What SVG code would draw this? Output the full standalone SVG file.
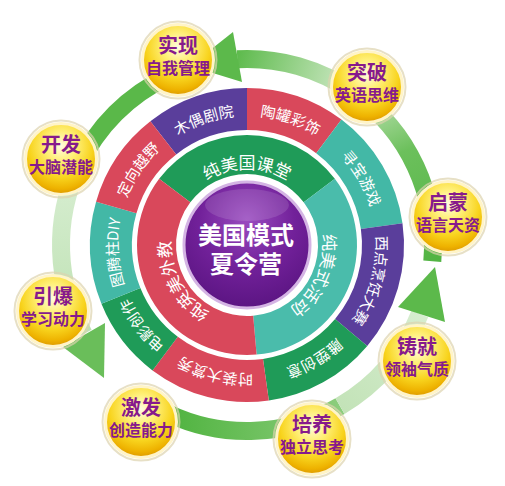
<svg xmlns="http://www.w3.org/2000/svg" width="505" height="486" viewBox="0 0 505 486">
<defs>
<style>
.red{fill:#d9485b}.pur{fill:#5a3e9b}.teal{fill:#43b8a6}.grn{fill:#1f9b58}
.ot{font-family:"Noto Sans CJK SC","Noto Sans",sans-serif;font-size:15px;fill:#ffffff}
.mt{font-family:"Noto Sans CJK SC","Noto Sans",sans-serif;font-size:17px;fill:#ffffff}
.ct{font-family:"Noto Sans CJK SC","Noto Sans",sans-serif;font-size:24px;font-weight:700;fill:#ffffff;text-anchor:middle}
.b1{font-family:"Noto Sans CJK SC","Noto Sans",sans-serif;font-size:20px;font-weight:700;fill:#861a8c;text-anchor:middle}
.b2{font-family:"Noto Sans CJK SC","Noto Sans",sans-serif;font-size:16px;font-weight:700;fill:#861a8c;text-anchor:middle}
.halo{fill:none;stroke:#ddd3ae;stroke-width:2;opacity:.7}
.ball{fill:url(#gold);stroke:#fff4c8;stroke-width:3}
.band{fill:none;stroke-width:18}
.head{fill:#5cb94b}
</style>
<radialGradient id="gold" cx="0.5" cy="0.32" r="0.68">
<stop offset="0" stop-color="#fffbe2"/>
<stop offset="0.3" stop-color="#fff07a"/>
<stop offset="0.65" stop-color="#f8d41e"/>
<stop offset="0.88" stop-color="#eeb200"/>
<stop offset="1" stop-color="#dc9800"/>
</radialGradient>
<radialGradient id="purp" cx="0.5" cy="0.3" r="0.75">
<stop offset="0" stop-color="#9a4cc0"/>
<stop offset="0.5" stop-color="#72219a"/>
<stop offset="1" stop-color="#58137f"/>
</radialGradient>
<linearGradient id="gA1" gradientUnits="userSpaceOnUse" x1="432" y1="261" x2="354" y2="93">
<stop offset="0" stop-color="#52b443"/><stop offset="0.6" stop-color="#6cc05c"/><stop offset="1" stop-color="#c8e6bd"/>
</linearGradient>
<linearGradient id="gA2" gradientUnits="userSpaceOnUse" x1="354" y1="93" x2="237" y2="59">
<stop offset="0" stop-color="#d4ebcc"/><stop offset="1" stop-color="#5fbb4e"/>
</linearGradient>
<linearGradient id="gB2" gradientUnits="userSpaceOnUse" x1="78" y1="166" x2="84" y2="334">
<stop offset="0" stop-color="#d8eed2"/><stop offset="1" stop-color="#bde1b2"/>
</linearGradient>
<linearGradient id="gC1" gradientUnits="userSpaceOnUse" x1="168" y1="414" x2="340" y2="406">
<stop offset="0" stop-color="#4fb33f"/><stop offset="1" stop-color="#8ccd7c"/>
</linearGradient>
<linearGradient id="gC2" gradientUnits="userSpaceOnUse" x1="340" y1="406" x2="420" y2="314">
<stop offset="0" stop-color="#c3e3b8"/><stop offset="1" stop-color="#d6edcf"/>
</linearGradient>
<path id="outerPath" d="M247,116 A129,129 0 1 1 247,374 A129,129 0 1 1 247,116"/>
<path id="midPath" d="M247,321 A76,76 0 1 1 247,169 A76,76 0 1 1 247,321"/>
</defs>
<rect width="505" height="486" fill="#ffffff"/>

<g id="connectors">
<path class="band" stroke="url(#gA1)" d="M432.3,261.2 A186,186 0 0 0 353.7,92.6"/>
<path class="band" stroke="url(#gA2)" d="M353.7,92.6 A186,186 0 0 0 237.3,59.3"/>
<polygon class="head" points="233,32 242,82 190,66"/>
<path class="band" stroke="#5ab849" d="M168.4,76.4 A186,186 0 0 0 78.4,166.4"/>
<path class="band" stroke="url(#gB2)" d="M78.4,166.4 A186,186 0 0 0 83.7,334"/>
<polygon class="head" style="fill:#6abe5a" points="63,347 105,323 104,378"/>
<path class="band" stroke="url(#gC1)" d="M168.4,413.6 A186,186 0 0 0 340,406.1"/>
<path class="band" stroke="url(#gC2)" d="M340,406.1 A186,186 0 0 0 419.8,313.8"/>
<polygon class="head" points="398,307 445,322 435,267"/>
</g>

<g id="wheel-outer">
<g id="seg-muou"><path class="pur" d="M150.34,121.28 A157,157 0 0 1 247,88 L247,130 A115,115 0 0 0 176.19,154.38 Z"/>
<text class="ot"><textPath href="#outerPath" startOffset="94.72%" text-anchor="middle">木偶剧院</textPath></text></g>
<g id="seg-taoguan"><path class="red" d="M247,88 A157,157 0 0 1 341.48,119.62 L316.21,153.16 A115,115 0 0 0 247,130 Z"/>
<text class="ot"><textPath href="#outerPath" startOffset="5.3%" text-anchor="middle">陶罐彩饰</textPath></text></g>
<g id="seg-xunbao"><path class="teal" d="M341.48,119.62 A157,157 0 0 1 402.48,223.15 L360.88,228.99 A115,115 0 0 0 316.21,153.16 Z"/>
<text class="ot"><textPath href="#outerPath" startOffset="16.6%" text-anchor="middle">寻宝游戏</textPath></text></g>
<g id="seg-xidian"><path class="pur" d="M402.48,223.15 A157,157 0 0 1 367.26,345.92 L335.09,318.92 A115,115 0 0 0 360.88,228.99 Z"/>
<text class="ot"><textPath href="#outerPath" startOffset="29.44%" text-anchor="middle">西点烹饪大赛</textPath></text></g>
<g id="seg-diaosu"><path class="grn" d="M367.26,345.92 A157,157 0 0 1 268.85,400.48 L263.01,358.88 A115,115 0 0 0 335.09,318.92 Z"/>
<text class="ot"><textPath href="#outerPath" startOffset="41.5%" text-anchor="middle">雕塑创意</textPath></text></g>
<g id="seg-shizhuang"><path class="red" d="M268.85,400.48 A157,157 0 0 1 152.52,370.38 L177.79,336.84 A115,115 0 0 0 263.01,358.88 Z"/>
<text class="ot"><textPath href="#outerPath" startOffset="53.9%" text-anchor="middle">时装大赏秀</textPath></text></g>
<g id="seg-dianying"><path class="grn" d="M152.52,370.38 A157,157 0 0 1 101.43,303.81 L140.37,288.08 A115,115 0 0 0 177.79,336.84 Z"/>
<text class="ot"><textPath href="#outerPath" startOffset="64.6%" text-anchor="middle">电影创作</textPath></text></g>
<g id="seg-tuteng"><path class="teal" d="M101.43,303.81 A157,157 0 0 1 96.08,201.73 L136.45,213.31 A115,115 0 0 0 140.37,288.08 Z"/>
<text class="ot"><textPath href="#outerPath" startOffset="74.1%" text-anchor="middle">图腾柱DIY</textPath></text></g>
<g id="seg-dingxiang"><path class="red" d="M96.08,201.73 A157,157 0 0 1 150.34,121.28 L176.19,154.38 A115,115 0 0 0 136.45,213.31 Z"/>
<text class="ot"><textPath href="#outerPath" startOffset="84.6%" text-anchor="middle">定向越野</textPath></text></g>
</g>

<g id="wheel-middle">
<g id="mid-ketang"><path class="grn" d="M159.15,178.8 A110,110 0 0 1 334.85,178.8 L303.7,202.27 A71,71 0 0 0 190.3,202.27 Z"/>
<text class="mt"><textPath href="#midPath" startOffset="50%" text-anchor="middle">纯美国课堂</textPath></text></g>
<g id="mid-huodong"><path class="teal" style="fill:#4abcab" d="M334.85,178.8 A110,110 0 0 1 256.59,354.58 L253.19,315.73 A71,71 0 0 0 303.7,202.27 Z"/>
<text class="mt"><textPath href="#midPath" startOffset="81.67%" text-anchor="middle">纯美式活动</textPath></text></g>
<g id="mid-waijiao"><path class="red" d="M256.59,354.58 A110,110 0 0 1 159.15,178.8 L190.3,202.27 A71,71 0 0 0 253.19,315.73 Z"/>
<text class="mt"><textPath href="#midPath" startOffset="16.94%" text-anchor="middle">纯英美外教</textPath></text></g>
</g>

<g id="center">
<circle cx="247" cy="245" r="66" fill="#ffffff"/>
<circle cx="247" cy="245" r="63" fill="url(#purp)" stroke="#d4b4e4" stroke-width="3"/>
<ellipse cx="247" cy="205" rx="42" ry="16" fill="#ffffff" opacity="0.12"/>
<text class="ct" x="246" y="244">美国模式</text>
<text class="ct" x="246" y="273">夏令营</text>
</g>

<g id="badge-shixian" transform="translate(178,60)"><circle r="38.5" class="halo"/><circle r="35.5" class="ball"/><text class="b1" y="-7">实现</text><text class="b2" y="14">自我管理</text></g>
<g id="badge-tupo" transform="translate(367,87)"><circle r="38.5" class="halo"/><circle r="35.5" class="ball"/><text class="b1" y="-7">突破</text><text class="b2" y="14">英语思维</text></g>
<g id="badge-qimeng" transform="translate(448,217)"><circle r="38.5" class="halo"/><circle r="35.5" class="ball"/><text class="b1" y="-7">启蒙</text><text class="b2" y="14">语言天资</text></g>
<g id="badge-zhujiu" transform="translate(417,361)"><circle r="38.5" class="halo"/><circle r="35.5" class="ball"/><text class="b1" y="-7">铸就</text><text class="b2" y="14">领袖气质</text></g>
<g id="badge-peiyang" transform="translate(312,439)"><circle r="38.5" class="halo"/><circle r="35.5" class="ball"/><text class="b1" y="-7">培养</text><text class="b2" y="14">独立思考</text></g>
<g id="badge-jifa" transform="translate(141,422)"><circle r="38.5" class="halo"/><circle r="35.5" class="ball"/><text class="b1" y="-7">激发</text><text class="b2" y="14">创造能力</text></g>
<g id="badge-yinbao" transform="translate(53,311)"><circle r="38.5" class="halo"/><circle r="35.5" class="ball"/><text class="b1" y="-7">引爆</text><text class="b2" y="14">学习动力</text></g>
<g id="badge-kaifa" transform="translate(61,159)"><circle r="38.5" class="halo"/><circle r="35.5" class="ball"/><text class="b1" y="-7">开发</text><text class="b2" y="14">大脑潜能</text></g>
</svg>
